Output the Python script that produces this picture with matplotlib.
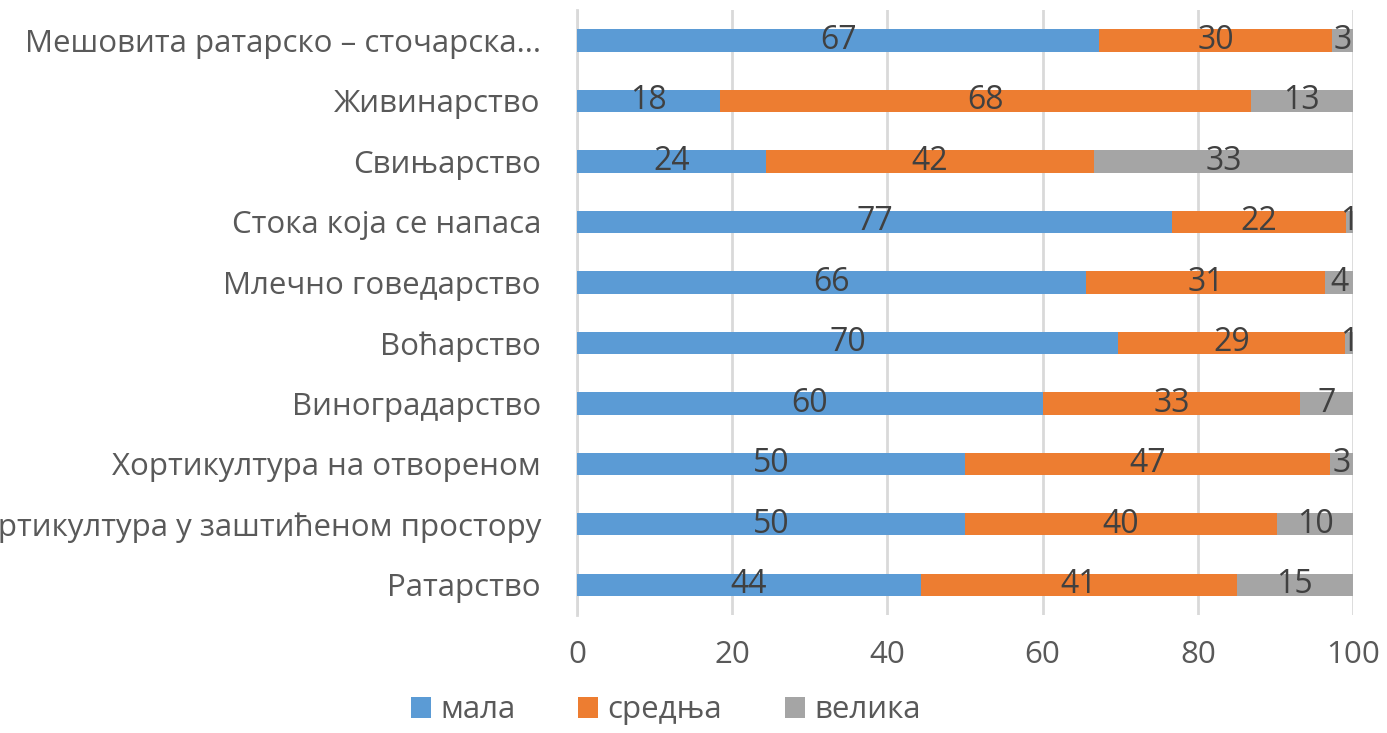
"""Структура газдинстава по типу производње и величини."""

import matplotlib.pyplot as plt
import numpy as np

kategorije = [
    "Ратарство",
    "Хортикултура у заштићеном простору",
    "Хортикултура на отвореном",
    "Виноградарство",
    "Воћарство",
    "Млечно говедарство",
    "Стока која се напаса",
    "Свињарство",
    "Живинарство",
    "Мешовита ратарско – сточарска...",
]
mala = [44.3, 50.0, 50.0, 60.0, 69.7, 65.6, 76.7, 24.3, 18.4, 67.3]
srednja = [40.7, 40.2, 47.0, 33.2, 29.3, 30.8, 22.4, 42.3, 68.4, 30.0]
velika = [15.0, 9.8, 3.0, 6.8, 1.0, 3.6, 0.9, 33.4, 13.2, 2.7]

serije = [("мала", mala, "#5B9BD5"), ("средња", srednja, "#ED7D31"), ("велика", velika, "#A5A5A5")]


def main() -> None:
    plt.rcParams["font.family"] = ["Open Sans", "DejaVu Sans"]
    fig = plt.figure(figsize=(13.87, 7.33), dpi=100)
    ax = fig.add_axes([0.416, 0.161, 0.5595, 0.825])

    y = np.arange(len(kategorije))
    levo = np.zeros(len(kategorije))
    for naziv, vrednosti, boja in serije:
        vrednosti = np.array(vrednosti)
        bars = ax.barh(y, vrednosti, left=levo, height=0.37, color=boja, label=naziv, zorder=3)
        ax.bar_label(
            bars,
            labels=[f"{v:.0f}" for v in vrednosti],
            label_type="center",
            fontsize=23,
            color="#404040",
        )
        levo += vrednosti

    ax.set_xlim(0, 100)
    ax.set_ylim(-0.5, len(kategorije) - 0.5)
    ax.set_xticks(range(0, 101, 20))
    ax.set_yticks(y)
    ax.set_yticklabels(kategorije)
    ax.tick_params(axis="both", length=0, labelsize=22.5, colors="#595959")
    ax.tick_params(axis="x", pad=18)
    ax.tick_params(axis="y", pad=26)
    ax.grid(axis="x", color="#D9D9D9", linewidth=2, zorder=0)
    for s in ["top", "right", "bottom"]:
        ax.spines[s].set_visible(False)
    ax.spines["left"].set_color("#D9D9D9")
    ax.spines["left"].set_linewidth(2)

    fig.legend(
        loc="lower center",
        bbox_to_anchor=(0.48, -0.028),
        ncol=3,
        frameon=False,
        fontsize=22.5,
        handlelength=0.65,
        handleheight=0.65,
        handletextpad=0.3,
        columnspacing=2.0,
        labelcolor="#595959",
    )

    fig.savefig("out.png", dpi=100)
    plt.close(fig)


if __name__ == "__main__":
    main()
